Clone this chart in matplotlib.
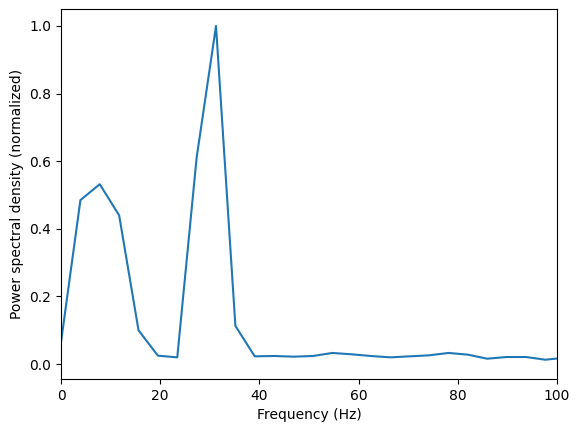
import matplotlib
matplotlib.use("Agg")
import matplotlib.pyplot as plt

freqs = [0.0, 3.91, 7.81, 11.72, 15.63, 19.53, 23.44, 27.34, 31.25, 35.16,
         39.06, 42.97, 46.88, 50.78, 54.69, 58.59, 62.5, 66.41, 70.31, 74.22,
         78.13, 82.03, 85.94, 89.84, 93.75, 97.66, 101.56]
psd = [0.065, 0.485, 0.532, 0.44, 0.10, 0.025, 0.02, 0.61, 1.0, 0.113,
       0.023, 0.024, 0.022, 0.024, 0.033, 0.029, 0.024, 0.020, 0.023, 0.026,
       0.033, 0.028, 0.016, 0.021, 0.021, 0.013, 0.019]

fig, ax = plt.subplots(figsize=(5.8, 4.32), dpi=100)
fig.subplots_adjust(left=0.1052, right=0.9603, top=0.979, bottom=0.1227)
ax.plot(freqs, psd, color="#1f77b4")
ax.set_xlim(0, 100)
ax.set_ylim(-0.044, 1.05)
ax.set_xlabel("Frequency (Hz)")
ax.set_ylabel("Power spectral density (normalized)")
fig.savefig("out.png", dpi=100)
